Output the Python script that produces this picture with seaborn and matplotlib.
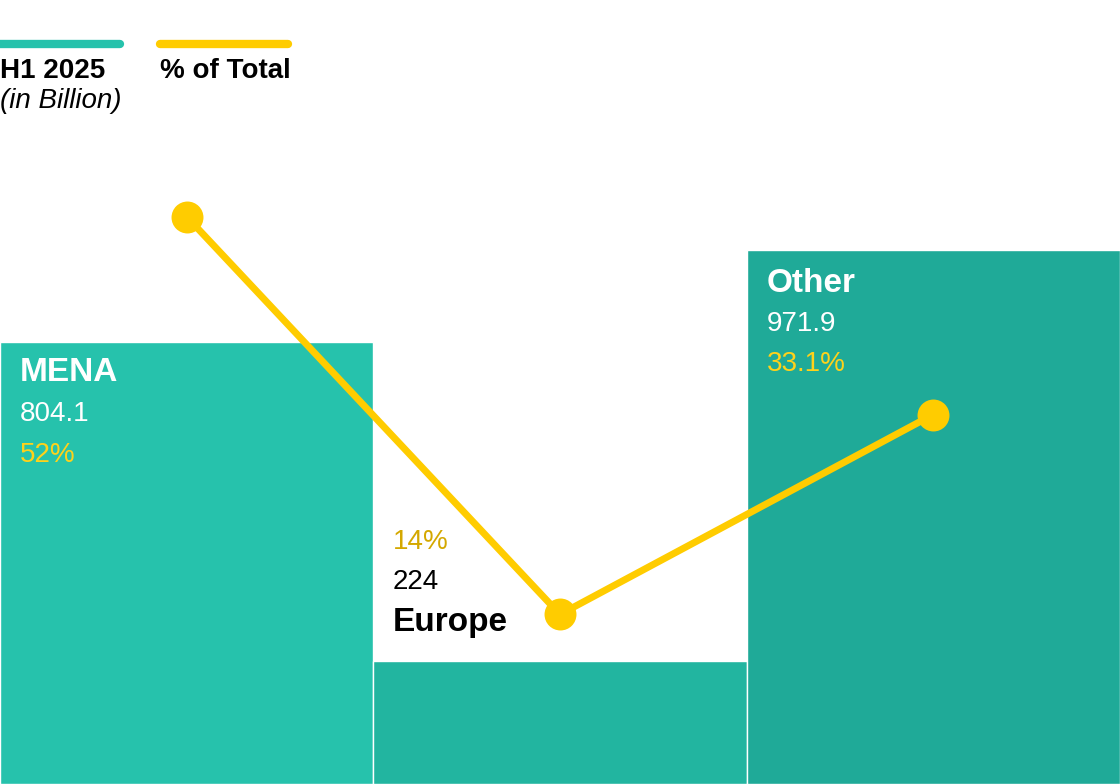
import numpy as np
import pandas as pd
import seaborn as sns
import matplotlib.pyplot as plt

sns.set_theme(style="white")
plt.rcParams['font.family'] = ['Liberation Sans', 'DejaVu Sans']

regions = ["MENA", "Europe", "Other"]
values = [804.1, 224, 971.9]
shares = [52, 14, 33.1]
value_labels = ["804.1", "224", "971.9"]
share_labels = ["52%", "14%", "33.1%"]
bar_colors = ["#26C2AC", "#22B5A0", "#1FAA98"]
yellow = "#FFCC00"

df = pd.DataFrame({"region": regions, "value": values, "share": shares})

W, H = 1120, 784
fig = plt.figure(figsize=(11.2, 7.84), dpi=100)
ax = fig.add_axes([0, 0, 1, 1])
sns.barplot(data=df, x="region", y="value", hue="region", palette=bar_colors,
            width=1.0, ax=ax, legend=False, saturation=1)
ax.set_xlim(-0.5, 2.5)
ax.set_ylim(0, 1426)
ax.axis("off")

ax2 = ax.twinx()
sns.lineplot(x=np.arange(3), y=df["share"], ax=ax2, color=yellow, lw=5,
             marker="o", markersize=23, markeredgewidth=0, markeredgecolor=yellow)
ax2.set_ylim(-2.2, 72.7)
ax2.set_xlim(-0.5, 2.5)
ax2.axis("off")

def px(x, y, s, **kw):
    fig.text(x / W, 1 - y / H, s, va="center", ha="left", **kw)

# legend
fig.add_artist(plt.Line2D([0, 120 / W], [1 - 44 / H] * 2, color="#26C2AC", lw=6))
fig.add_artist(plt.Line2D([160 / W, 288 / W], [1 - 44 / H] * 2, color=yellow, lw=6))
px(0, 71, "H1 2025", fontsize=20, fontweight="bold", color="black")
px(0, 101, "(in Billion)", fontsize=20, style="italic", color="black")
px(160, 71, "% of Total", fontsize=20, fontweight="bold", color="black")

# MENA
px(20, 373, regions[0], fontsize=24, fontweight="bold", color="white")
px(20, 414, value_labels[0], fontsize=20, color="white")
px(20, 455, share_labels[0], fontsize=20, color="#FFD21A")
# Europe
px(393, 542, share_labels[1], fontsize=20, color="#D4A800")
px(393, 582, value_labels[1], fontsize=20, color="black")
px(393, 623, regions[1], fontsize=24, fontweight="bold", color="black")
# Other
px(767, 283, regions[2], fontsize=24, fontweight="bold", color="white")
px(767, 324, value_labels[2], fontsize=20, color="white")
px(767, 364, share_labels[2], fontsize=20, color="#FFD21A")

fig.savefig("out.png", dpi=100)
